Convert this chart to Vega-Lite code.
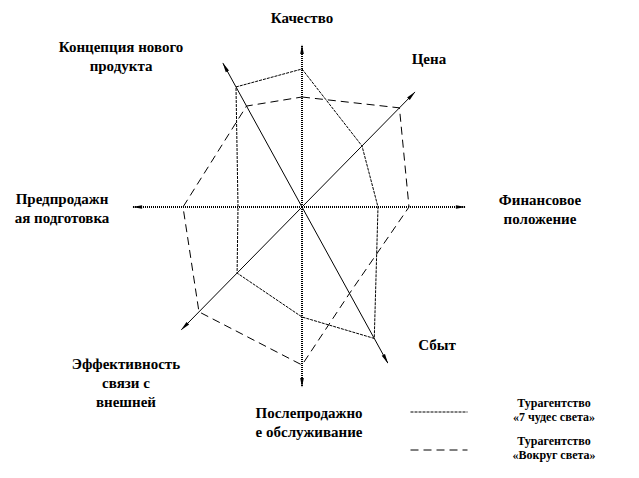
{
  "$schema": "https://vega.github.io/schema/vega-lite/v6.json",
  "width": 639,
  "height": 478,
  "padding": 0,
  "autosize": {"type": "none"},
  "background": "white",
  "config": {"view": {"stroke": null}},
  "datasets": {
    "axes": [
      {"axis": "Качество", "ord": 0, "angle": 90, "length": 8.1, "labelR": 9.45, "labelAngle": 90, "label": "Качество"},
      {"axis": "Цена", "ord": 1, "angle": 45.5, "length": 8.05, "labelR": 9.75, "labelAngle": 49.4, "label": "Цена"},
      {"axis": "Финансовое положение", "ord": 2, "angle": 0, "length": 8.15, "labelR": 11.905, "labelAngle": 1.68, "label": "Финансовое\nположение"},
      {"axis": "Сбыт", "ord": 3, "angle": -61.2, "length": 8.9, "labelR": 9.65, "labelAngle": -45.6, "label": "Сбыт"},
      {"axis": "Послепродажное обслуживание", "ord": 4, "angle": -90, "length": 9.0, "labelR": 10.306, "labelAngle": -88.05, "label": "Послепродажно\nе обслуживание"},
      {"axis": "Эффективность связи с внешней", "ord": 5, "angle": -134.5, "length": 8.6, "labelR": 11.79, "labelAngle": -138.3, "label": "Эффективность\nсвязи с\nвнешней"},
      {"axis": "Предпродажная подготовка", "ord": 6, "angle": 180, "length": 8.45, "labelR": 12.007, "labelAngle": 178.1, "label": "Предпродажн\nая подготовка"},
      {"axis": "Концепция нового продукта", "ord": 7, "angle": 118.8, "length": 8.2, "labelR": 12.08, "labelAngle": 138.5, "label": "Концепция нового\nпродукта"}
    ],
    "scores": [
      {"series": "«7 чудес света»", "axis": "Качество", "value": 6.9},
      {"series": "«7 чудес света»", "axis": "Цена", "value": 4.28},
      {"series": "«7 чудес света»", "axis": "Финансовое положение", "value": 3.8},
      {"series": "«7 чудес света»", "axis": "Сбыт", "value": 7.5},
      {"series": "«7 чудес света»", "axis": "Послепродажное обслуживание", "value": 5.5},
      {"series": "«7 чудес света»", "axis": "Эффективность связи с внешней", "value": 4.63},
      {"series": "«7 чудес света»", "axis": "Предпродажная подготовка", "value": 3.2},
      {"series": "«7 чудес света»", "axis": "Концепция нового продукта", "value": 6.85},
      {"series": "«Вокруг света»", "axis": "Качество", "value": 5.5},
      {"series": "«Вокруг света»", "axis": "Цена", "value": 6.95},
      {"series": "«Вокруг света»", "axis": "Финансовое положение", "value": 5.35},
      {"series": "«Вокруг света»", "axis": "Сбыт", "value": 4.93},
      {"series": "«Вокруг света»", "axis": "Послепродажное обслуживание", "value": 7.9},
      {"series": "«Вокруг света»", "axis": "Эффективность связи с внешней", "value": 7.35},
      {"series": "«Вокруг света»", "axis": "Предпродажная подготовка", "value": 5.95},
      {"series": "«Вокруг света»", "axis": "Концепция нового продукта", "value": 5.76}
    ]
  },
  "layer": [
    {
      "data": {"name": "axes"},
      "transform": [
        {"filter": "datum.angle % 90 == 0"},
        {"calculate": "0", "as": "cx"},
        {"calculate": "0", "as": "cy"},
        {"calculate": "datum.length * cos(datum.angle * PI / 180)", "as": "tx"},
        {"calculate": "datum.length * sin(datum.angle * PI / 180)", "as": "ty"}
      ],
      "mark": {"type": "rule", "color": "black", "strokeWidth": 2, "strokeDash": [1, 1]},
      "encoding": {
        "x": {"field": "cx", "type": "quantitative", "scale": {"domain": [-15.1, 16.85], "nice": false, "zero": false}, "axis": null},
        "y": {"field": "cy", "type": "quantitative", "scale": {"domain": [-13.55, 10.35], "nice": false, "zero": false}, "axis": null},
        "x2": {"field": "tx"},
        "y2": {"field": "ty"}
      }
    },
    {
      "data": {"name": "axes"},
      "transform": [
        {"filter": "datum.angle % 90 != 0"},
        {"calculate": "0", "as": "cx"},
        {"calculate": "0", "as": "cy"},
        {"calculate": "datum.length * cos(datum.angle * PI / 180)", "as": "tx"},
        {"calculate": "datum.length * sin(datum.angle * PI / 180)", "as": "ty"}
      ],
      "mark": {"type": "rule", "color": "black", "strokeWidth": 1},
      "encoding": {
        "x": {"field": "cx", "type": "quantitative", "scale": {"domain": [-15.1, 16.85], "nice": false, "zero": false}, "axis": null},
        "y": {"field": "cy", "type": "quantitative", "scale": {"domain": [-13.55, 10.35], "nice": false, "zero": false}, "axis": null},
        "x2": {"field": "tx"},
        "y2": {"field": "ty"}
      }
    },
    {
      "data": {"name": "axes"},
      "transform": [
        {"calculate": "(datum.length - 0.22) * cos(datum.angle * PI / 180)", "as": "ax"},
        {"calculate": "(datum.length - 0.22) * sin(datum.angle * PI / 180)", "as": "ay"},
        {"calculate": "90 - datum.angle", "as": "rot"}
      ],
      "mark": {"type": "point", "shape": "M0,-1L0.35,0.9L-0.35,0.9Z", "filled": true, "color": "black", "opacity": 1, "size": 110},
      "encoding": {
        "x": {"field": "ax", "type": "quantitative", "scale": {"domain": [-15.1, 16.85], "nice": false, "zero": false}, "axis": null},
        "y": {"field": "ay", "type": "quantitative", "scale": {"domain": [-13.55, 10.35], "nice": false, "zero": false}, "axis": null},
        "angle": {"field": "rot", "type": "quantitative", "scale": null}
      }
    },
    {
      "data": {"name": "axes"},
      "transform": [
        {"calculate": "datum.labelR * cos(datum.labelAngle * PI / 180)", "as": "lx"},
        {"calculate": "datum.labelR * sin(datum.labelAngle * PI / 180)", "as": "ly"}
      ],
      "mark": {"type": "text", "font": "Liberation Serif", "fontWeight": "bold", "fontSize": 15, "lineBreak": "\n", "lineHeight": 19, "align": "center", "baseline": "middle", "color": "black"},
      "encoding": {
        "x": {"field": "lx", "type": "quantitative", "scale": {"domain": [-15.1, 16.85], "nice": false, "zero": false}, "axis": null},
        "y": {"field": "ly", "type": "quantitative", "scale": {"domain": [-13.55, 10.35], "nice": false, "zero": false}, "axis": null},
        "text": {"field": "label"}
      }
    },
    {
      "data": {"name": "scores"},
      "transform": [
        {"lookup": "axis", "from": {"data": {"name": "axes"}, "key": "axis", "fields": ["angle", "ord"]}},
        {"calculate": "datum.value * cos(datum.angle * PI / 180)", "as": "px"},
        {"calculate": "datum.value * sin(datum.angle * PI / 180)", "as": "py"}
      ],
      "mark": {"type": "line", "interpolate": "linear-closed", "color": "black", "strokeWidth": 1},
      "encoding": {
        "x": {"field": "px", "type": "quantitative", "scale": {"domain": [-15.1, 16.85], "nice": false, "zero": false}, "axis": null},
        "y": {"field": "py", "type": "quantitative", "scale": {"domain": [-13.55, 10.35], "nice": false, "zero": false}, "axis": null},
        "order": {"field": "ord", "type": "quantitative"},
        "strokeDash": {
          "field": "series",
          "type": "nominal",
          "scale": {"domain": ["«7 чудес света»", "«Вокруг света»"], "range": [[3, 1], [8, 5]]},
          "legend": {
            "orient": "none",
            "legendX": 429,
            "legendY": 402,
            "title": null,
            "padding": 0,
            "symbolType": "M-3,0H3",
            "symbolSize": 361,
            "symbolStrokeWidth": 1,
            "symbolStrokeColor": "black",
            "symbolFillColor": "transparent",
            "labelExpr": "['Турагентство', datum.label]",
            "labelFont": "Liberation Serif",
            "labelFontWeight": "bold",
            "labelFontSize": 12,
            "labelLineHeight": 18,
            "labelAlign": "center",
            "labelOffset": 105,
            "labelLimit": 0,
            "labelColor": "black",
            "rowPadding": 12,
            "encode": {"labels": {"update": {"dy": {"value": -9}}}}
          }
        }
      }
    }
  ]
}
